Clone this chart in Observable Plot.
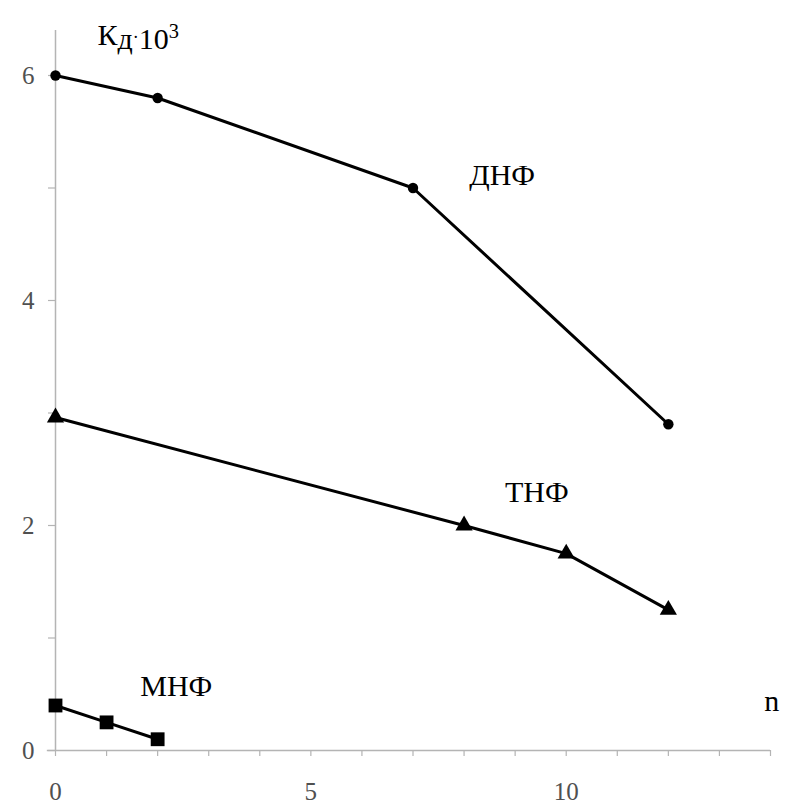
<!DOCTYPE html>
<html>
<head>
<meta charset="utf-8">
<script src="https://cdn.jsdelivr.net/npm/d3@7"></script>
<script src="https://cdn.jsdelivr.net/npm/@observablehq/plot@0.6"></script>
<style>
  body { margin: 0; background: #fff; }
  #chart svg { display: block; }
</style>
</head>
<body>
<div id="chart"></div>
<script>
// Series data (n vs Kд·10^3)
const dnfN = [0, 2, 7, 12];
const dnfK = [6.0, 5.8, 5.0, 2.9];
const tnfN = [0, 8, 10, 12];
const tnfK = [2.96, 2.0, 1.75, 1.25];
const mnfN = [0, 1, 2];
const mnfK = [0.4, 0.25, 0.1];

const xTicks = d3.range(0, 15, 1);
const yTicks = d3.range(0, 7, 1);
const seriesNames = ["ДНФ", "ТНФ", "МНФ"];
const labelAnchors = [[8.1, 5.11], [8.8, 2.29], [1.66, 0.57]];

const toRows = (ns, ks) => ns.map((n, i) => ({n, k: ks[i]}));
const dnf = toRows(dnfN, dnfK);
const tnf = toRows(tnfN, tnfK);
const mnf = toRows(mnfN, mnfK);
const labels = seriesNames.map((s, i) => ({s, x: labelAnchors[i][0], y: labelAnchors[i][1]}));

const font = "Liberation Serif";
const axisGray = "#b4b4b4";

const plot = Plot.plot({
  width: 788,
  height: 812,
  marginLeft: 55,
  marginRight: 18,
  marginTop: 30,
  marginBottom: 62,
  style: {background: "#fff", overflow: "visible"},
  x: {domain: [0, 14], axis: null},
  y: {domain: [0, 6.4], axis: null},
  marks: [
    Plot.ruleX([0], {y1: [0], y2: [6.4], stroke: axisGray, strokeWidth: 1.5}),
    Plot.ruleY([0], {x1: [-0.16], x2: [14], stroke: axisGray, strokeWidth: 1.5}),
    Plot.axisX({ticks: xTicks, tickSize: 6, tickPadding: 26, stroke: axisGray, strokeWidth: 1.2,
      tickFormat: d => d % 5 === 0 ? d : "", fontSize: 25, fontFamily: font, fill: "#505050", label: null}),
    Plot.axisY({ticks: yTicks, tickSize: 7, tickPadding: 14, stroke: axisGray, strokeWidth: 1.2,
      tickFormat: d => d % 2 === 0 ? d : "", fontSize: 25, fontFamily: font, fill: "#505050", label: null}),
    Plot.line(dnf, {x: "n", y: "k", stroke: "#000", strokeWidth: 3}),
    Plot.line(tnf, {x: "n", y: "k", stroke: "#000", strokeWidth: 3}),
    Plot.line(mnf, {x: "n", y: "k", stroke: "#000", strokeWidth: 3}),
    Plot.dot(dnf, {x: "n", y: "k", r: 5.2, fill: "#000", stroke: "none"}),
    Plot.dot(tnf, {x: "n", y: "k", r: 6.4, symbol: "triangle", fill: "#000", stroke: "none"}),
    Plot.dot(mnf, {x: "n", y: "k", r: 7.8, symbol: "square", fill: "#000", stroke: "none"}),
    Plot.text(labels, {x: "x", y: "y", text: "s", textAnchor: "start", fontSize: 30, fontFamily: font, fill: "#000", lineAnchor: "middle"}),
    Plot.text(["n"], {x: [13.88], y: [0.44], text: d => d, textAnchor: "start", fontSize: 30, fontFamily: font, fill: "#000"}),
    Plot.text(["Кд·10³"], {x: [0.82], y: [6.27], text: d => d, textAnchor: "start", lineAnchor: "bottom", fontSize: 30, fontFamily: font, fill: "#000", className: "ylabel"})
  ]
});

// Rich formatting of the y-axis label: subscript "д", middle dot, superscript "3"
d3.select(plot).selectAll("g.ylabel text").each(function() {
  const t = d3.select(this);
  t.text(null);
  t.append("tspan").text("К");
  t.append("tspan").attr("dy", "0.12em").text("д");
  t.append("tspan").attr("dy", "-0.3em").attr("font-size", "0.6em").text("·");
  t.append("tspan").attr("dy", "0.18em").text("10");
  t.append("tspan").attr("dy", "-0.55em").attr("font-size", "0.68em").text("3");
});

d3.select(plot).attr("font-family", font);
d3.select(plot).selectAll("text").attr("font-family", font);

document.getElementById("chart").appendChild(plot);
</script>
</body>
</html>
